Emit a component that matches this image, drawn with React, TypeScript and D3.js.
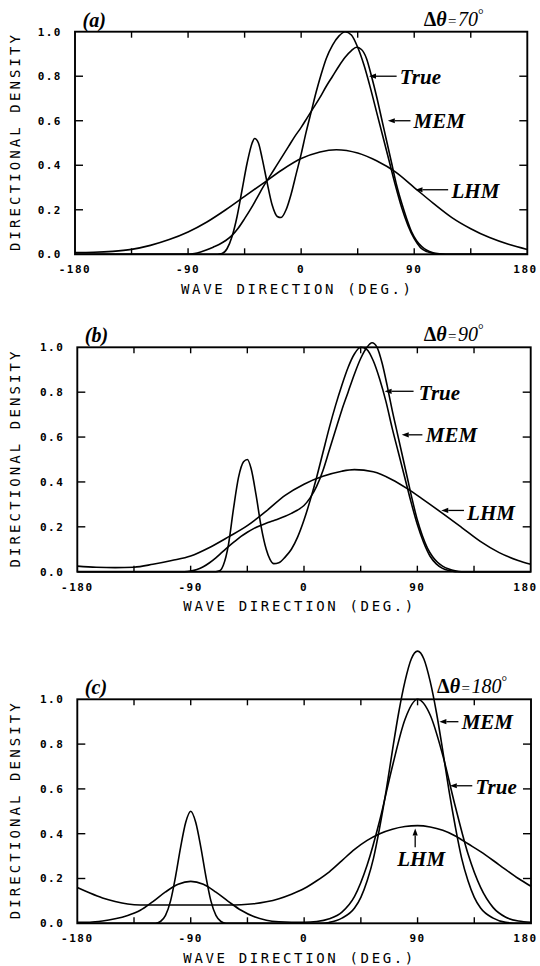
import React from "react";
import * as d3 from "d3";

const X_LABEL_TICKS = [-180, -90, 0, 90, 180];
const X_MINOR_TICKS = [-135, -90, -45, 0, 45, 90, 135];
const Y_TICKS = [0, 0.2, 0.4, 0.6, 0.8, 1.0];
const Y_MINOR_TICKS = [0.2, 0.4, 0.6, 0.8];

type P = [number, number];

// Panel (a)  Δθ = 70°
const A_TRUE: P[] = [[-180,0],[-90,0],[-85,0.003],[-80,0.01],[-75,0.02],[-70,0.032],[-65,0.045],[-60,0.062],[-55,0.085],[-50,0.118],[-45,0.16],[-40,0.205],[-35,0.255],[-30,0.305],[-25,0.35],[-20,0.395],[-15,0.44],[-10,0.485],[-5,0.53],[0,0.57],[5,0.615],[10,0.66],[15,0.705],[20,0.755],[25,0.8],[30,0.845],[35,0.885],[40,0.915],[44,0.93],[48,0.92],[52,0.88],[56,0.8],[60,0.71],[64,0.61],[68,0.51],[72,0.41],[76,0.31],[80,0.23],[84,0.16],[88,0.1],[92,0.06],[96,0.035],[100,0.018],[105,0.007],[110,0.002],[115,0],[180,0]];
const A_MEM: P[] = [[-180,0],[-70,0],[-63,0.004],[-59,0.025],[-55,0.08],[-51,0.17],[-47,0.29],[-43,0.41],[-39,0.5],[-37,0.52],[-34,0.5],[-31,0.43],[-27,0.32],[-23,0.22],[-19,0.17],[-16,0.165],[-12,0.2],[-8,0.27],[-4,0.36],[0,0.45],[4,0.55],[8,0.64],[12,0.73],[16,0.81],[20,0.88],[25,0.94],[30,0.98],[35,1.0],[40,0.985],[45,0.93],[50,0.85],[55,0.75],[60,0.64],[65,0.53],[70,0.42],[75,0.31],[80,0.21],[85,0.13],[90,0.07],[95,0.03],[100,0.012],[105,0.004],[110,0],[180,0]];
const A_LHM: P[] = [[-180,0.008],[-165,0.009],[-150,0.013],[-135,0.022],[-120,0.04],[-105,0.066],[-90,0.1],[-75,0.145],[-60,0.2],[-45,0.26],[-30,0.32],[-15,0.38],[0,0.43],[15,0.46],[28,0.47],[45,0.455],[60,0.42],[75,0.37],[90,0.3],[105,0.23],[120,0.165],[135,0.115],[150,0.075],[165,0.045],[180,0.022]];

// Panel (b)  Δθ = 90°
const B_TRUE: P[] = [[-180,0],[-95,0],[-90,0.003],[-85,0.01],[-80,0.022],[-75,0.04],[-70,0.062],[-65,0.087],[-60,0.112],[-55,0.135],[-50,0.157],[-45,0.176],[-40,0.192],[-35,0.205],[-30,0.216],[-25,0.226],[-20,0.236],[-15,0.247],[-10,0.26],[-5,0.275],[0,0.295],[5,0.33],[10,0.38],[15,0.45],[20,0.54],[25,0.63],[30,0.72],[35,0.8],[40,0.88],[45,0.95],[50,1.0],[54,1.02],[58,1.0],[62,0.93],[66,0.83],[70,0.72],[74,0.62],[78,0.52],[82,0.42],[86,0.32],[90,0.23],[94,0.16],[98,0.105],[102,0.068],[106,0.042],[110,0.025],[115,0.012],[120,0.004],[125,0],[180,0]];
const B_MEM: P[] = [[-180,0],[-70,0],[-67,0.004],[-64,0.03],[-60,0.12],[-56,0.28],[-52,0.42],[-48,0.49],[-45,0.5],[-42,0.46],[-38,0.34],[-34,0.2],[-30,0.1],[-27,0.055],[-24,0.036],[-20,0.04],[-15,0.065],[-10,0.1],[-5,0.155],[0,0.23],[5,0.32],[10,0.42],[15,0.53],[20,0.64],[25,0.74],[30,0.83],[35,0.91],[40,0.97],[45,1.0],[50,0.99],[55,0.94],[60,0.86],[65,0.76],[70,0.64],[75,0.53],[80,0.42],[85,0.31],[90,0.21],[95,0.13],[100,0.07],[105,0.035],[110,0.015],[115,0.005],[120,0],[180,0]];
const B_LHM: P[] = [[-180,0.025],[-165,0.02],[-150,0.018],[-135,0.02],[-120,0.033],[-105,0.05],[-90,0.07],[-75,0.108],[-60,0.155],[-45,0.205],[-30,0.27],[-15,0.34],[0,0.39],[15,0.425],[30,0.448],[40,0.455],[55,0.445],[70,0.41],[82,0.37],[95,0.32],[110,0.26],[125,0.198],[140,0.135],[155,0.085],[170,0.05],[180,0.033]];

// Panel (c)  Δθ = 180°
const C_TRUE: P[] = [[-180,0.005],[-170,0.005],[-160,0.01],[-150,0.02],[-140,0.035],[-130,0.058],[-120,0.097],[-110,0.14],[-100,0.174],[-90,0.187],[-80,0.174],[-70,0.139],[-60,0.097],[-50,0.058],[-40,0.03],[-30,0.014],[-20,0.007],[-10,0.005],[0,0.005],[10,0.008],[20,0.02],[30,0.05],[40,0.12],[50,0.26],[60,0.46],[70,0.7],[80,0.91],[90,1.0],[100,0.93],[110,0.75],[120,0.52],[130,0.31],[140,0.16],[150,0.07],[160,0.027],[170,0.01],[180,0.005]];
const C_MEM: P[] = [[-180,0],[-118,0],[-114,0.008],[-110,0.035],[-106,0.1],[-102,0.21],[-98,0.34],[-94,0.45],[-90,0.5],[-86,0.45],[-82,0.34],[-78,0.21],[-74,0.1],[-70,0.035],[-66,0.008],[-62,0],[15,0],[20,0.004],[30,0.023],[40,0.068],[45,0.116],[50,0.19],[55,0.29],[60,0.43],[65,0.59],[70,0.77],[75,0.94],[80,1.08],[85,1.18],[90,1.215],[95,1.18],[100,1.08],[105,0.94],[110,0.77],[115,0.59],[120,0.43],[125,0.29],[130,0.19],[135,0.116],[140,0.068],[150,0.023],[160,0.004],[170,0],[180,0]];
const C_LHM: P[] = [[-180,0.16],[-170,0.135],[-160,0.113],[-150,0.097],[-140,0.086],[-130,0.082],[-120,0.082],[-90,0.082],[-60,0.082],[-50,0.083],[-40,0.087],[-30,0.096],[-20,0.11],[-10,0.13],[0,0.155],[10,0.19],[20,0.23],[30,0.28],[40,0.33],[50,0.37],[60,0.4],[70,0.42],[80,0.432],[90,0.436],[100,0.43],[110,0.415],[120,0.39],[130,0.355],[140,0.32],[155,0.26],[170,0.2],[180,0.165]];

type Lab = { text: string; tip: P; tail: P; at: P; anchor?: string };
type Panel = {
  tag: string; delta: string; x0: number; x1: number; y0: number; y1: number;
  series: P[][]; labels: Lab[]; deltaAt: number;
};

const PANELS: Panel[] = [
  { tag: "(a)", delta: "70", x0: 75, x1: 527.3, y0: 31.7, y1: 254.3, deltaAt: 97.5,
    series: [A_TRUE, A_MEM, A_LHM],
    labels: [
      { text: "True", tip: [54, 0.8], tail: [76, 0.8], at: [78.5, 0.8] },
      { text: "MEM", tip: [69, 0.6], tail: [87, 0.6], at: [89.5, 0.6] },
      { text: "LHM", tip: [91, 0.29], tail: [117, 0.29], at: [119.7, 0.285] },
    ] },
  { tag: "(b)", delta: "90", x0: 77.3, x1: 530.7, y0: 347.3, y1: 571.7, deltaAt: 95,
    series: [B_TRUE, B_MEM, B_LHM],
    labels: [
      { text: "True", tip: [64, 0.804], tail: [87, 0.804], at: [91.2, 0.8] },
      { text: "MEM", tip: [77.6, 0.61], tail: [94, 0.61], at: [96.7, 0.61] },
      { text: "LHM", tip: [109, 0.273], tail: [127, 0.273], at: [129.5, 0.262] },
    ] },
  { tag: "(c)", delta: "180", x0: 77.3, x1: 531, y0: 699.3, y1: 923.3, deltaAt: 105.5,
    series: [C_TRUE, C_MEM, C_LHM],
    labels: [
      { text: "MEM", tip: [107.3, 0.9], tail: [122.4, 0.9], at: [125, 0.9] },
      { text: "True", tip: [115.6, 0.614], tail: [133.4, 0.614], at: [136, 0.61] },
      { text: "LHM", tip: [88.1, 0.423], tail: [88.1, 0.339], at: [92.9, 0.29], anchor: "middle" },
    ] },
];

const MONO = "'DejaVu Sans Mono', monospace";
const SERIF = "'Liberation Serif', 'Times New Roman', serif";

function Arrow({ x1, y1, x2, y2 }: { x1: number; y1: number; x2: number; y2: number }) {
  const a = Math.atan2(y2 - y1, x2 - x1);
  const L = 7, W = 2.6;
  const bx = x2 - L * Math.cos(a), by = y2 - L * Math.sin(a);
  const px = -Math.sin(a) * W, py = Math.cos(a) * W;
  return (
    <g>
      <line x1={x1} y1={y1} x2={bx} y2={by} stroke="#000" strokeWidth={1.3} />
      <path d={`M${x2},${y2}L${bx + px},${by + py}L${bx - px},${by - py}Z`} fill="#000" />
    </g>
  );
}

function PanelView({ p }: { p: Panel }) {
  const x = d3.scaleLinear().domain([-180, 180]).range([p.x0, p.x1]);
  const y = d3.scaleLinear().domain([0, 1]).range([p.y1, p.y0]);
  const line = d3.line<P>().x(d => x(d[0])).y(d => y(d[1])).curve(d3.curveMonotoneX);
  const cy = (p.y0 + p.y1) / 2;
  return (
    <g>
      {p.series.map((s, i) => (
        <path key={i} d={line(s) || ""} fill="none" stroke="#000" strokeWidth={1.6} strokeLinejoin="round" />
      ))}
      <rect x={p.x0} y={p.y0} width={p.x1 - p.x0} height={p.y1 - p.y0} fill="none" stroke="#000" strokeWidth={1.9} />
      {X_MINOR_TICKS.map(t => (
        <g key={"xt" + t}>
          <line x1={x(t)} x2={x(t)} y1={p.y0} y2={p.y0 + 6} stroke="#000" strokeWidth={1.4} />
          <line x1={x(t)} x2={x(t)} y1={p.y1} y2={p.y1 - 6} stroke="#000" strokeWidth={1.4} />
        </g>
      ))}
      {Y_MINOR_TICKS.map(t => (
        <g key={"yt" + t}>
          <line x1={p.x0} x2={p.x0 + 8} y1={y(t)} y2={y(t)} stroke="#000" strokeWidth={1.4} />
          <line x1={p.x1} x2={p.x1 - 8} y1={y(t)} y2={y(t)} stroke="#000" strokeWidth={1.4} />
        </g>
      ))}
      {Y_TICKS.map(t => (
        <text key={"yl" + t} x={p.x0 - 13} y={y(t)} dy="0.36em" textAnchor="end" fontFamily={MONO}
          fontWeight="bold" fontSize={11} letterSpacing={1.5}>{t.toFixed(1)}</text>
      ))}
      {X_LABEL_TICKS.map(t => {
        const xx = Math.min(x(t), 525.5);
        return (
          <text key={"xl" + t} x={xx} y={p.y1 + 19} textAnchor="middle" fontFamily={MONO}
            fontWeight="bold" fontSize={11} letterSpacing={1.5}>{String(t)}</text>
        );
      })}
      <text x={p.x0 + 221} y={p.y1 + 39.5} textAnchor="middle" fontFamily={MONO} fontSize={14}
        textLength={230} lengthAdjust="spacing">WAVE DIRECTION (DEG.)</text>
      <text transform={`translate(19.5,${cy}) rotate(-90)`} textAnchor="middle" fontFamily={MONO} fontSize={14}
        textLength={216} lengthAdjust="spacing">DIRECTIONAL DENSITY</text>
      <text x={x(-174)} y={p.y0 - 5} fontFamily={SERIF} fontStyle="italic" fontWeight="bold" fontSize={20}>{p.tag}</text>
      <text x={x(p.deltaAt)} y={p.y0 - 6} fontFamily={SERIF} fontSize={20}>
        <tspan fontWeight="bold">Δ</tspan><tspan fontStyle="italic" fontWeight="bold">θ</tspan>
        <tspan fontSize={15} dx={1.5}>=</tspan><tspan fontStyle="italic" dx={1.5}>{p.delta}</tspan>
        <tspan fontSize={14} dy={-7}>°</tspan>
      </text>
      {p.labels.map(l => (
        <g key={l.text}>
          <Arrow x1={x(l.tail[0])} y1={y(l.tail[1])} x2={x(l.tip[0])} y2={y(l.tip[1])} />
          <text x={x(l.at[0])} y={y(l.at[1])} dy="0.35em" textAnchor={l.anchor || "start"} fontFamily={SERIF}
            fontStyle="italic" fontWeight="bold" fontSize={21}>{l.text}</text>
        </g>
      ))}
    </g>
  );
}

export default function App() {
  return (
    <svg width={540} height={966} viewBox="0 0 540 966" style={{ position: "absolute", left: 0, top: 0, background: "#fff" }}>
      <rect width={540} height={966} fill="#fff" />
      {PANELS.map(p => <PanelView key={p.tag} p={p} />)}
    </svg>
  );
}
